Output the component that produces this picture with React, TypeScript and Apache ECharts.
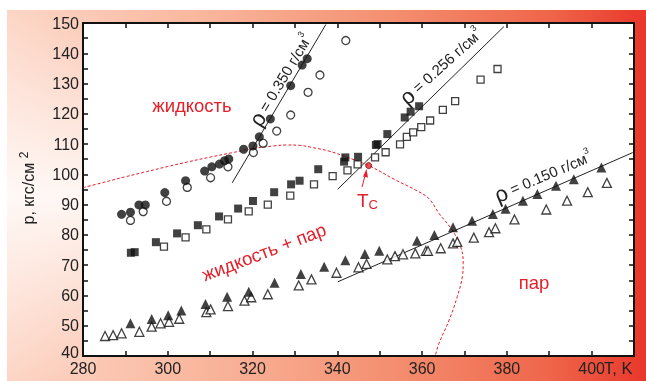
import React, { useEffect, useRef } from "react";
import * as echarts from "echarts";

const filledCircles = [[289.1,86.8],[291.2,87.5],[293.2,89.9],[294.7,89.9],[299.3,94.0],[304.2,97.9],[308.7,101.1],[310.4,102.5],[312.2,103.4],[313.4,104.5],[314.4,105.1],[317.9,108.3],[320.1,109.4],[321.6,112.4],[324.2,118.3],[329.0,129.3],[331.7,136.1],[332.9,138.2]];
const openCircles = [[291.2,84.8],[294.2,87.7],[299.7,91.1],[304.6,95.7],[310.1,98.9],[314.2,102.5],[320.2,107.2],[322.5,110.3],[325.7,114.3],[329.0,119.6],[333.1,127.1],[335.9,132.8],[342.0,144.2]];
const filledSquares = [[291.3,74.1],[292.2,74.3],[297.2,77.6],[302.2,80.5],[307.1,83.2],[312.1,86.1],[316.6,88.7],[320.1,91.2],[325.1,94.1],[329.1,96.7],[331.1,97.9],[335.5,101.7],[341.6,104.2],[341.9,105.6],[344.9,105.8],[349.1,109.7],[349.5,110.0],[351.8,113.3],[355.9,118.8],[357.3,120.7],[359.3,122.5]];
const openSquares = [[299.1,76.1],[304.2,79.2],[309.1,81.8],[314.2,85.1],[319.1,87.8],[323.6,90.0],[328.9,93.0],[334.5,96.7],[338.9,99.4],[342.4,101.3],[344.8,103.3],[348.9,105.6],[351.4,107.3],[354.8,109.9],[356.4,112.4],[357.9,113.9],[359.8,115.6],[361.9,117.8],[364.9,121.3],[367.8,124.2],[373.8,131.3],[377.8,134.8]];
const filledTriangles = [[291.2,50.8],[296.2,52.2],[300.1,53.5],[303.2,55.0],[308.9,57.2],[314.0,59.6],[319.1,61.2],[325.2,64.2],[331.4,67.1],[336.9,69.5],[341.9,71.6],[346.5,73.7],[349.9,74.8],[358.8,78.1],[362.9,80.0],[367.3,82.5],[371.8,84.7],[376.7,86.9],[379.7,88.6],[383.8,91.3],[387.2,93.5],[391.6,96.2],[395.8,98.4],[402.3,102.3]];
const openTriangles = [[285.2,46.6],[287.1,46.9],[289.1,47.5],[293.3,48.0],[296.2,49.7],[298.3,50.8],[300.3,51.3],[302.7,52.3],[309.1,54.5],[310.1,55.4],[314.2,56.5],[318.1,58.3],[319.7,59.4],[323.6,60.4],[330.9,63.3],[333.9,65.3],[339.8,67.5],[345.0,69.3],[346.9,70.4],[351.8,71.9],[353.6,73.0],[355.5,73.6],[358.4,73.9],[360.9,74.7],[361.4,74.7],[364.4,75.6],[367.3,77.2],[368.3,77.7],[372.2,79.1],[375.8,80.9],[377.3,82.2],[381.8,85.1],[389.3,88.4],[394.2,91.3],[399.1,94.1],[403.6,97.2]];
const fit350 = [[315.2,97.2],[337.3,149.5]];
const fit256 = [[340.1,95.1],[379.3,148.8]];
const fit150 = [[340.1,64.5],[409.7,107.2]];
const binodal = [[280,95.6],[285,97.4],[290,99.2],[295,100.9],[300,102.6],[305,104.2],[310,105.7],[315,107.1],[320,108.5],[325,109.4],[328,109.7],[331,109.6],[334,108.9],[338,107.7],[342,105.8],[347.4,102.9],[353.8,98.1],[358.5,94.8],[361.6,92.0],[364.0,87.1],[367.1,81.6],[369.1,76.1],[369.7,70.6],[369.5,66.2],[368.3,59.6],[366.4,51.9],[364.0,44.2],[363.1,40]];
const criticalPoint = [[347.4,102.9]];
const xTicks = [280, 300, 320, 340, 360, 380, 400];

const FONT = "Liberation Sans, Arial, sans-serif";
const RED = "#e4202a";

export default function App() {
  const ref = useRef<HTMLDivElement>(null);
  useEffect(() => {
    if (!ref.current) return;
    const chart = echarts.init(ref.current, null, { renderer: "svg" });
    const deg = Math.PI / 180;
    const axisLine = { lineStyle: { color: "#111", width: 2 } };
    const scatter = (data: number[][], symbol: string, size: number, filled: boolean) => ({
      type: "scatter",
      data,
      symbol,
      symbolSize: size,
      z: 5,
      itemStyle: filled
        ? { color: "#111" }
        : { color: "#fff", borderColor: "#111", borderWidth: 1.3 },
    });
    const fitLine = (data: number[][]) => ({
      type: "line",
      data,
      symbol: "none",
      z: 3,
      lineStyle: { color: "#222", width: 1 },
    });
    const labelRich = {
      r: { fontSize: 22, fontFamily: FONT, fill: "#222" },
      n: { fontSize: 15, fontFamily: FONT, fill: "#222" },
      s: { fontSize: 9, fontFamily: FONT, fill: "#222", verticalAlign: "top", padding: [0, 0, 10, 0] },
    };
    const rhoLabel = (val: string, x: number, y: number, ang: number) => ({
      type: "text",
      x,
      y,
      rotation: ang * deg,
      z: 10,
      style: {
        text: `{r|ρ}{n| = ${val} г/см}{s|3}`,
        rich: labelRich,
        align: "center",
        verticalAlign: "middle",
        textAlign: "center",
        textVerticalAlign: "middle",
      },
    });
    const redText = (text: string, x: number, y: number, ang: number, size = 18.5) => ({
      type: "text",
      x,
      y,
      rotation: ang * deg,
      z: 10,
      style: {
        text,
        fill: RED,
        fontSize: size,
        fontFamily: FONT,
        align: "center",
        verticalAlign: "middle",
        textAlign: "center",
        textVerticalAlign: "middle",
      },
    });
    chart.setOption({
      animation: false,
      grid: { left: 83, right: 12, top: 23, bottom: 25, show: true, backgroundColor: "#fff", borderWidth: 0 },
      xAxis: [
        {
          type: "value", min: 280, max: 410, interval: 10,
          axisLine, splitLine: { show: false },
          axisTick: { inside: true, length: 5, lineStyle: { color: "#111", width: 1.5 } },
          axisLabel: {
            color: "#222", fontSize: 16, fontFamily: FONT, margin: 4,
            formatter: (v: number) => (xTicks.includes(v) ? String(v) : ""),
          },
        },
        {
          type: "value", position: "top", min: 280, max: 410, interval: 10,
          axisLine, splitLine: { show: false },
          axisTick: { inside: true, length: 5, lineStyle: { color: "#111", width: 1.5 } },
          axisLabel: { show: false },
        },
      ],
      yAxis: [
        {
          type: "value", min: 40, max: 150, interval: 5,
          axisLine, splitLine: { show: false },
          axisTick: { inside: true, length: 5, lineStyle: { color: "#111", width: 1.5 } },
          axisLabel: {
            color: "#222", fontSize: 16, fontFamily: FONT, margin: 4,
            formatter: (v: number) => (v === 40 ? "{low|40}" : v % 10 === 0 ? String(v) : ""),
            rich: { low: { fontSize: 16, fontFamily: FONT, color: "#222", padding: [0, 0, 8, 0] } },
          },
        },
        {
          type: "value", position: "right", min: 40, max: 150, interval: 5,
          axisLine, splitLine: { show: false },
          axisTick: { inside: true, length: 5, lineStyle: { color: "#111", width: 1.5 } },
          axisLabel: { show: false },
        },
      ],
      series: [
        {
          type: "line", data: binodal, symbol: "none", smooth: 0.4, z: 2,
          lineStyle: { color: RED, width: 1, type: [3, 2] },
        },
        fitLine(fit350),
        fitLine(fit256),
        fitLine(fit150),
        scatter(openCircles, "circle", 8, false),
        scatter(filledCircles, "circle", 9, true),
        scatter(openSquares, "rect", 7, false),
        scatter(filledSquares, "rect", 8, true),
        scatter(openTriangles, "triangle", 9, false),
        scatter(filledTriangles, "triangle", 10, true),
        {
          type: "scatter", data: criticalPoint, symbol: "circle", symbolSize: 6, z: 6,
          itemStyle: { color: RED, borderColor: "#7a0a0a", borderWidth: 1 },
        },
      ],
      graphic: [
        {
          type: "rect", z: -10, silent: true,
          shape: { x: 7, y: 10, width: 639, height: 371 },
          style: {
            fill: {
              type: "linear", x: 0, y: 0, x2: 1, y2: 0,
              colorStops: [
                { offset: 0, color: "#fdd6c6" },
                { offset: 0.3, color: "#f9b79e" },
                { offset: 0.6, color: "#f48f70" },
                { offset: 0.85, color: "#ef654a" },
                { offset: 1, color: "#e9372b" },
              ],
            },
          },
        },
        {
          type: "rect", z: -9, silent: true,
          shape: { x: 7, y: 10, width: 90, height: 371 },
          style: {
            fill: {
              type: "linear", x: 0, y: 0, x2: 0, y2: 1,
              colorStops: [
                { offset: 0, color: "rgba(255,255,255,0)" },
                { offset: 0.5, color: "rgba(255,255,255,0.85)" },
                { offset: 1, color: "rgba(255,255,255,0)" },
              ],
            },
          },
        },
        rhoLabel("0.350", 281, 80, 59),
        rhoLabel("0.256", 441, 66, 42),
        rhoLabel("0.150", 543, 176, 23),
        redText("жидкость", 192, 105, 0),
        redText("жидкость + пар", 264, 252, 21),
        redText("пар", 534, 282, 0),
        {
          type: "text", x: 357, y: 200, z: 10,
          style: {
            text: "{t|T}{c|C}",
            rich: {
              t: { fontSize: 19, fontFamily: FONT, fill: RED },
              c: { fontSize: 13, fontFamily: FONT, fill: RED, verticalAlign: "bottom", padding: [8, 0, 0, 0] },
            },
            align: "left", verticalAlign: "middle", textAlign: "left", textVerticalAlign: "middle",
          },
        },
        {
          type: "line", z: 10,
          shape: { x1: 362, y1: 187, x2: 365.5, y2: 174 },
          style: { stroke: RED, lineWidth: 1 },
        },
        {
          type: "polygon", z: 10,
          shape: { points: [[366.5, 169], [363, 176.5], [368, 177.5]] },
          style: { fill: RED },
        },
        {
          type: "text", x: 604, y: 368, z: 10,
          style: {
            text: "T, K", fill: "#222", fontSize: 16.5, fontFamily: FONT,
            align: "left", verticalAlign: "middle", textAlign: "left", textVerticalAlign: "middle",
          },
        },
        {
          type: "text", x: 28, y: 188, rotation: 90 * deg, z: 10,
          style: {
            text: "{a|p, кгс/см }{b|2}",
            rich: {
              a: { fontSize: 16, fontFamily: FONT, fill: "#222" },
              b: { fontSize: 12, fontFamily: FONT, fill: "#222", verticalAlign: "top", padding: [0, 0, 8, 0] },
            },
            align: "center", verticalAlign: "middle", textAlign: "center", textVerticalAlign: "middle",
          },
        },
      ],
    });
    return () => chart.dispose();
  }, []);
  return <div ref={ref} style={{ position: "fixed", left: 0, top: 0, width: 646, height: 381 }} />;
}
